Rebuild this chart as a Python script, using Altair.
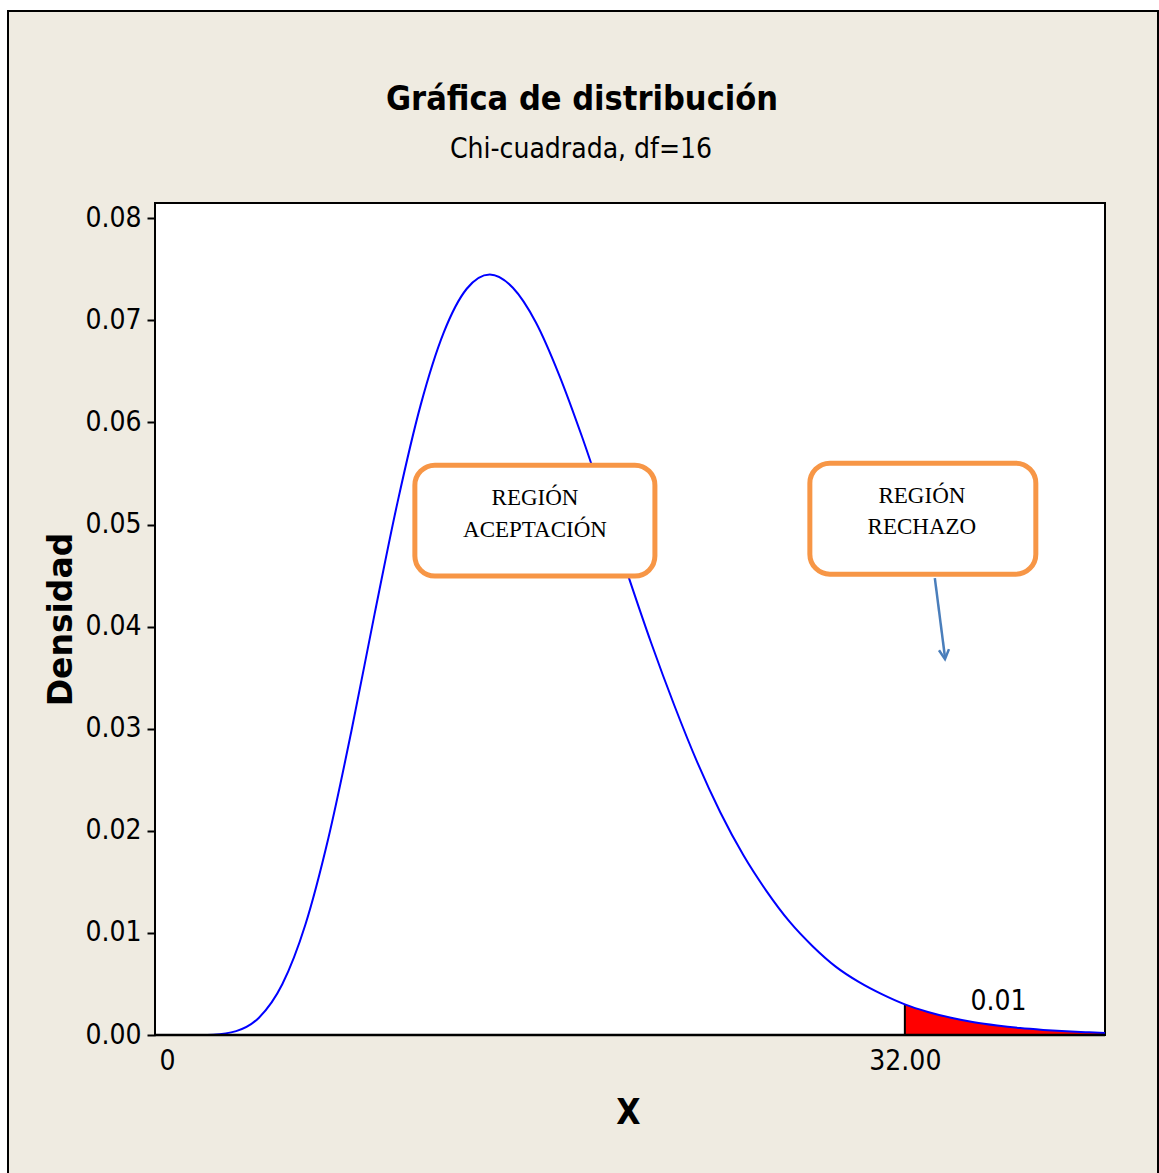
import altair as alt
import pandas as pd

# ---- data ----
x_vals = [1.4, 2, 3, 4, 5, 6, 7, 8, 9, 10, 11, 12, 13, 14, 15, 16, 17, 18, 19, 20,
          21, 22, 23, 24, 25, 26, 27, 28, 29, 30, 31, 32, 33, 34, 35, 36, 37, 38,
          39, 40, 40.68]
dens = [0.000004, 0.0000365, 0.000378, 0.00172, 0.00497, 0.0108, 0.0193, 0.0298,
        0.0412, 0.0522, 0.0617, 0.0688, 0.0731, 0.0745, 0.0732, 0.0698, 0.0647,
        0.0586, 0.0519, 0.0450, 0.0384, 0.0323, 0.0267, 0.0218, 0.0176, 0.0141,
        0.0111, 0.0087, 0.0067, 0.0052, 0.0040, 0.0030, 0.00226, 0.00169, 0.00125,
        0.00093, 0.00068, 0.00050, 0.00036, 0.00026, 0.00020]
crit_x = 32.0
crit_d = 0.0030
tail_label = "0.01"
x_tick_values = [0, 32]
y_tick_values = [0.0, 0.01, 0.02, 0.03, 0.04, 0.05, 0.06, 0.07, 0.08]
chart_title = "Gráfica de distribución"
chart_subtitle = "Chi-cuadrada, df=16"

box_x = [10.75, 27.88]
box_x2 = [21.16, 37.68]
box_top = [0.05582, 0.05601]
box_bottom = [0.04495, 0.04514]

box_text = ["REGIÓN", "ACEPTACIÓN", "REGIÓN", "RECHAZO"]
box_text_x = [15.96, 15.96, 32.74, 32.74]
box_text_d = [0.05190, 0.04877, 0.05210, 0.04906]

arrow_x = [33.30]
arrow_x2 = [33.74]
arrow_d = [0.04475]
arrow_d2 = [0.03700]
arrow_tip_x = [33.74]
arrow_tip_d = [0.03682]

label_x = [36.06]
label_d = [0.00245]

NARROW = "DejaVu Sans Condensed, sans-serif"
W, H = 950, 832

df = pd.DataFrame({"x": x_vals, "d": dens})
tail = df[df["x"] >= crit_x]
one = pd.DataFrame({"k": [0]})

xscale = alt.Scale(domain=[-0.52, 40.68], nice=False, zero=False)
yscale = alt.Scale(domain=[0, 0.0815], nice=False)

x_enc = alt.X("x:Q", scale=xscale, axis=alt.Axis(
    values=x_tick_values,
    labelExpr="datum.value == 0 ? '0' : format(datum.value, '.2f')",
    title="X", ticks=False, tickSize=0, domain=False, grid=False,
    labelFont=NARROW, labelFontSize=28, labelColor="black", labelPadding=12,
    labelFlush=False,
    titleFont=NARROW, titleFontSize=35, titleFontWeight="bold", titleColor="black",
    titleX=473, titleY=88, titleBaseline="alphabetic", titleAlign="center",
    zindex=1))
y_enc = alt.Y("d:Q", scale=yscale, axis=alt.Axis(
    values=y_tick_values, format=".2f", title="Densidad",
    ticks=True, tickSize=8, tickWidth=2, tickColor="black", domain=False, grid=False,
    labelFont=NARROW, labelFontSize=28, labelColor="black", labelPadding=6,
    titleFont="DejaVu Sans", titleFontSize=33, titleFontWeight="bold", titleColor="black",
    titleX=-84, titleY=416, titleBaseline="alphabetic", titleAlign="center", titleAngle=270,
    zindex=1))

bg = alt.Chart(one).mark_rect(fill="#EFEBE1", stroke="black", strokeWidth=2).encode(
    x=alt.value(-147), x2=alt.value(1003), y=alt.value(-192), y2=alt.value(1000))
plot_bg = alt.Chart(one).mark_rect(fill="white", stroke="black", strokeWidth=2).encode(
    x=alt.value(0), x2=alt.value(W), y=alt.value(0), y2=alt.value(H))

red = alt.Chart(tail).mark_area(color="#FF0000", interpolate="monotone").encode(
    x=x_enc, y=y_enc)
crit = alt.Chart(pd.DataFrame({"x": [crit_x], "d": [0.0], "d2": [crit_d]})).mark_rule(
    color="black", strokeWidth=2).encode(x="x:Q", y="d:Q", y2="d2:Q")
line = alt.Chart(df).mark_line(color="#0000FF", strokeWidth=2, interpolate="monotone").encode(
    x="x:Q", y="d:Q")
base_axis = alt.Chart(one).mark_rule(color="black", strokeWidth=2.5).encode(
    x=alt.value(0), x2=alt.value(W), y=alt.value(H))

boxes = alt.Chart(pd.DataFrame({"x": box_x, "x2": box_x2, "d": box_top, "d2": box_bottom})).mark_rect(
    fill="white", stroke="#F79646", strokeWidth=5, cornerRadius=20).encode(
    x="x:Q", x2="x2:Q", y="d:Q", y2="d2:Q")
btext = alt.Chart(pd.DataFrame({"x": box_text_x, "d": box_text_d, "t": box_text})).mark_text(
    font="Liberation Serif, Times New Roman, serif", fontSize=23, color="black",
    align="center", baseline="alphabetic").encode(x="x:Q", y="d:Q", text="t:N")

arrow = alt.Chart(pd.DataFrame({"x": arrow_x, "x2": arrow_x2, "d": arrow_d, "d2": arrow_d2})).mark_rule(
    color="#4A7EBB", strokeWidth=2.5).encode(x="x:Q", x2="x2:Q", y="d:Q", y2="d2:Q")
head = alt.Chart(pd.DataFrame({"x": arrow_tip_x, "d": arrow_tip_d})).mark_point(
    shape="M-0.5,-0.95L0,0L0.5,-0.95", filled=False, stroke="#4A7EBB", strokeWidth=2.5,
    size=400, angle=354, opacity=1).encode(x="x:Q", y="d:Q")

tlabel = alt.Chart(pd.DataFrame({"x": label_x, "d": label_d, "t": [tail_label]})).mark_text(
    font=NARROW, fontSize=28, color="black", align="center", baseline="alphabetic").encode(
    x="x:Q", y="d:Q", text="t:N")

title = alt.Chart(pd.DataFrame({"t": [chart_title]})).mark_text(
    font=NARROW, fontSize=34, fontWeight="bold", color="black", align="center",
    baseline="alphabetic").encode(x=alt.value(427), y=alt.value(-93), text="t:N")
subtitle = alt.Chart(pd.DataFrame({"t": [chart_subtitle]})).mark_text(
    font=NARROW, fontSize=28, color="black", align="center",
    baseline="alphabetic").encode(x=alt.value(426), y=alt.value(-45), text="t:N")

chart = alt.layer(
    bg, plot_bg, red, crit, line, base_axis, boxes, btext, arrow, head, tlabel, title, subtitle
).properties(
    width=W, height=H,
    padding={"left": 155, "top": 203, "right": 54, "bottom": 138},
    autosize=alt.AutoSizeParams(type="none"),
    background="white",
).configure_view(stroke=None)

chart.save("out.html", embed_options={"renderer": "svg", "actions": False})
